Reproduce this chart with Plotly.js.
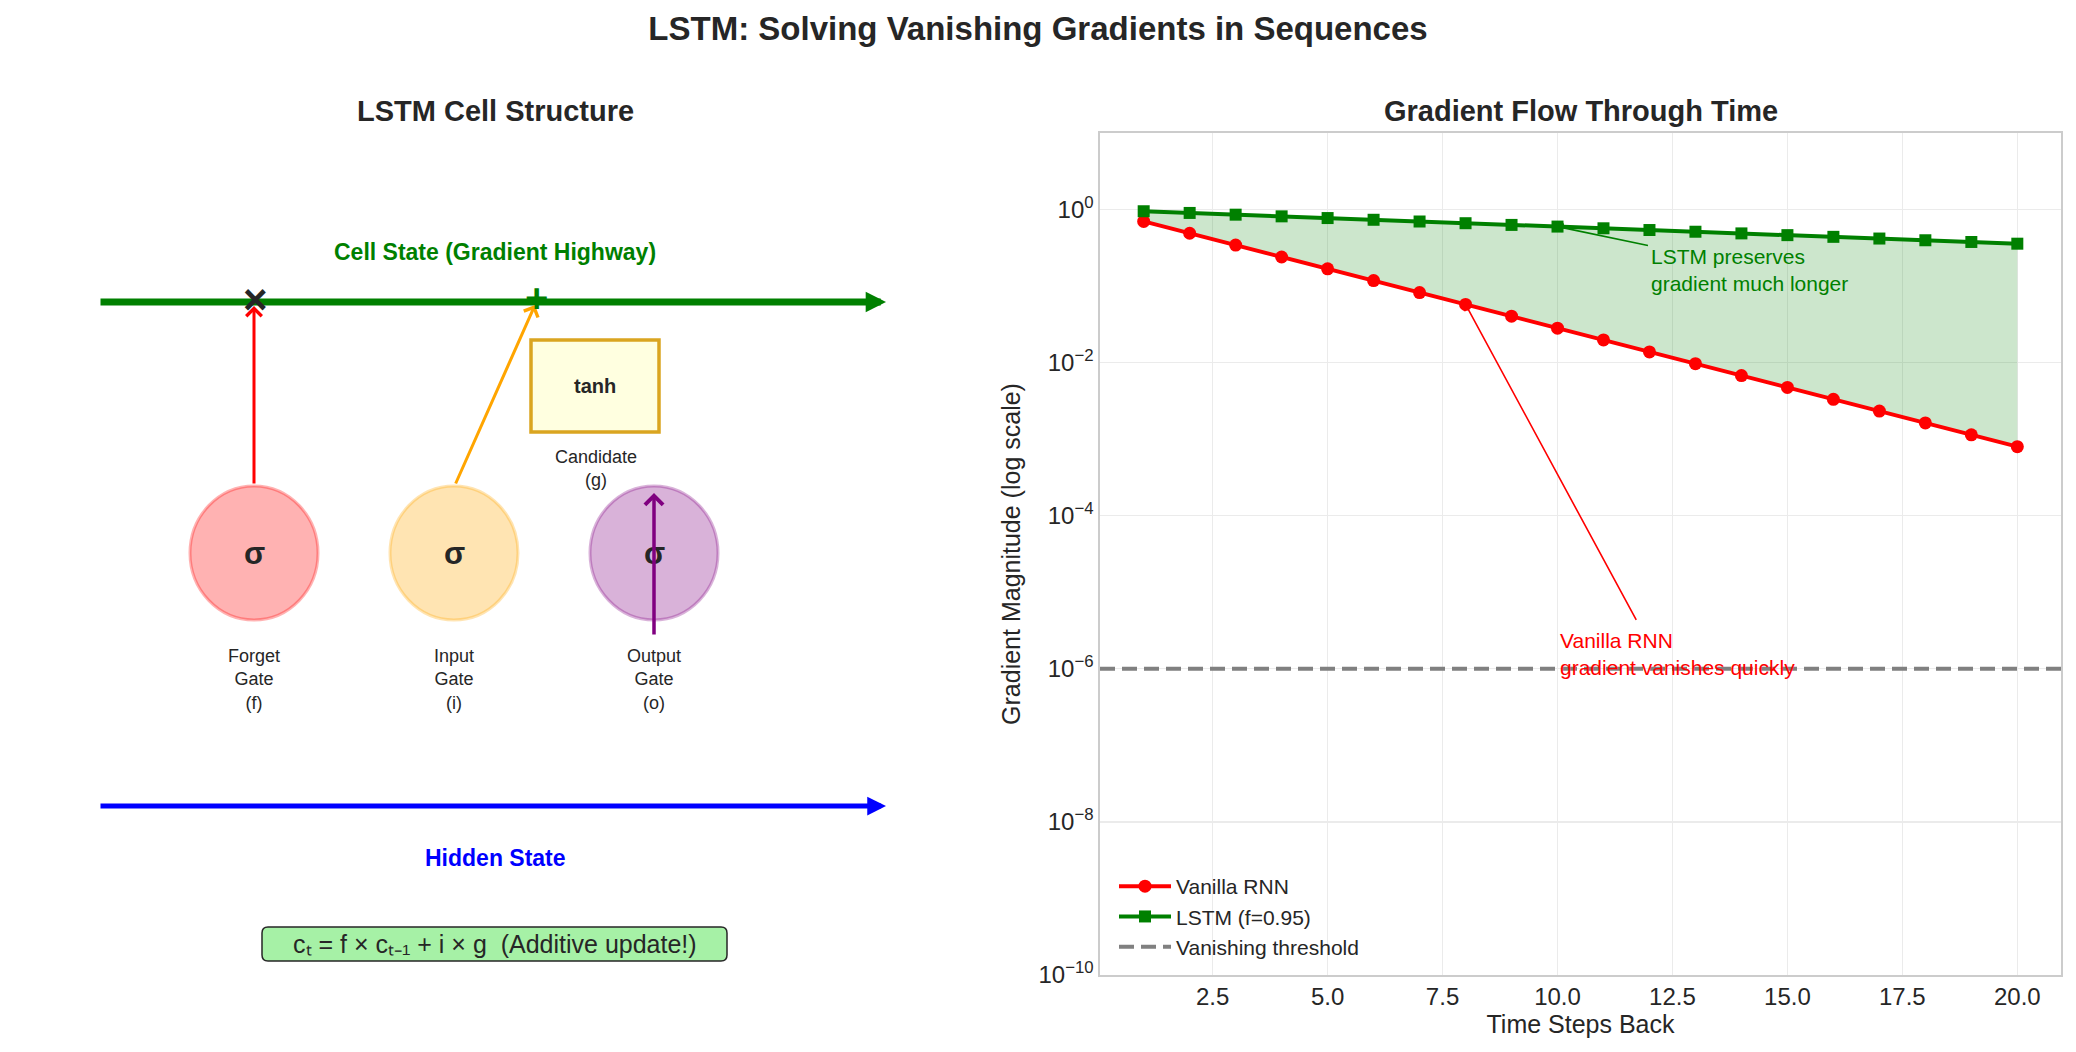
<!DOCTYPE html>
<html>
<head>
<meta charset="utf-8">
<script src="https://cdn.plot.ly/plotly-3.0.1.min.js"></script>
<style>
  html, body { margin: 0; padding: 0; background: #ffffff; }
  #chart { width: 2076px; height: 1052px; }
</style>
</head>
<body>
<div id="chart"></div>
<script>
// Gradient magnitudes per step back in time
const steps = [1, 2, 3, 4, 5, 6, 7, 8, 9, 10, 11, 12, 13, 14, 15, 16, 17, 18, 19, 20];
const rnnGrad = [0.7, 0.49, 0.343, 0.24, 0.168, 0.118, 0.0824, 0.0576, 0.0404, 0.0282,
                 0.0198, 0.0138, 0.00969, 0.00678, 0.00475, 0.00332, 0.00233, 0.00163, 0.00114, 0.000798];
const lstmGrad = [0.95, 0.903, 0.857, 0.815, 0.774, 0.735, 0.698, 0.663, 0.63, 0.599,
                  0.569, 0.54, 0.513, 0.488, 0.463, 0.44, 0.418, 0.397, 0.377, 0.358];
const vanishThreshold = 1e-6;

const yTickVals = [1, 1e-2, 1e-4, 1e-6, 1e-8, 1e-10];
const yTickText = ['10<sup>0</sup>', '10<sup>\u22122</sup>', '10<sup>\u22124</sup>',
                   '10<sup>\u22126</sup>', '10<sup>\u22128</sup>', '10<sup>\u221210</sup>'];

// Gate labels of the cell diagram
const gateLabels = ['Forget<br>Gate<br>(f)', 'Input<br>Gate<br>(i)', 'Output<br>Gate<br>(o)'];
const gateColors = ['255,0,0', '255,165,0', '128,0,128'];

const FONT = '"Liberation Sans", Arial, Helvetica, sans-serif';
const TXT = '#262626';

// ---------- right panel: gradient curves ----------
const traces = [
  { x: steps, y: lstmGrad, mode: 'lines', line: { width: 0, color: 'rgba(0,128,0,0)' },
    showlegend: false, hoverinfo: 'skip', xaxis: 'x', yaxis: 'y' },
  { x: steps, y: rnnGrad, mode: 'lines', fill: 'tonexty', fillcolor: 'rgba(0,128,0,0.2)',
    line: { width: 1, color: 'rgba(0,128,0,0.2)' }, showlegend: false, hoverinfo: 'skip',
    xaxis: 'x', yaxis: 'y' },
  { x: steps, y: rnnGrad, name: 'Vanilla RNN', mode: 'lines+markers',
    line: { color: '#ff0000', width: 4 }, marker: { symbol: 'circle', size: 13, color: '#ff0000' },
    xaxis: 'x', yaxis: 'y' },
  { x: steps, y: lstmGrad, name: 'LSTM (f=0.95)', mode: 'lines+markers',
    line: { color: '#008000', width: 4 }, marker: { symbol: 'square', size: 12, color: '#008000' },
    xaxis: 'x', yaxis: 'y' },
  { x: [null], y: [null], name: 'Vanishing threshold', mode: 'lines',
    line: { color: '#808080', width: 4, dash: '15px,7px' }, xaxis: 'x', yaxis: 'y' }
];

// ---------- left panel: LSTM cell diagram (panel units = pixels) ----------
const gateCx = [254, 454, 654];
const gateCy = 553, gateRx = 64, gateRy = 67;

const shapes = [];
gateCx.forEach((cx, i) => {
  shapes.push({
    type: 'circle', xref: 'x2', yref: 'y2',
    x0: cx - gateRx, x1: cx + gateRx, y0: gateCy - gateRy, y1: gateCy + gateRy,
    fillcolor: 'rgba(' + gateColors[i] + ',0.3)',
    line: { color: 'rgba(' + gateColors[i] + ',0.3)', width: 3 }
  });
});
// candidate (tanh) box
shapes.push({
  type: 'rect', xref: 'x2', yref: 'y2', x0: 531, x1: 659, y0: 340, y1: 432,
  fillcolor: '#ffffe0', line: { color: '#daa520', width: 3.5 }
});
// rounded box behind the update equation
(function () {
  const x0 = 262, x1 = 727, y0 = 927, y1 = 961, r = 6;
  shapes.push({
    type: 'path', xref: 'x2', yref: 'y2',
    path: `M ${x0 + r},${y0} L ${x1 - r},${y0} Q ${x1},${y0} ${x1},${y0 + r} L ${x1},${y1 - r} ` +
          `Q ${x1},${y1} ${x1 - r},${y1} L ${x0 + r},${y1} Q ${x0},${y1} ${x0},${y1 - r} ` +
          `L ${x0},${y0 + r} Q ${x0},${y0} ${x0 + r},${y0} Z`,
    fillcolor: 'rgba(144,238,144,0.8)', line: { color: TXT, width: 1.5 }
  });
})();
// vanishing threshold line across the plot
shapes.push({
  type: 'line', xref: 'paper', yref: 'y', x0: 1100 / 2076, x1: 2061 / 2076,
  y0: vanishThreshold, y1: vanishThreshold,
  line: { color: '#808080', width: 4, dash: '15px,7px' }
});

function txt(x, y, text, size, color, bold, extra) {
  return Object.assign({
    xref: 'x2', yref: 'y2', x: x, y: y, showarrow: false,
    text: bold ? '<b>' + text + '</b>' : text,
    font: { family: FONT, size: size, color: color },
    xanchor: 'center', yanchor: 'middle', align: 'center'
  }, extra || {});
}
function arrow(tx, ty, hx, hy, color, width, size, head) {
  return {
    xref: 'x2', yref: 'y2', axref: 'x2', ayref: 'y2',
    x: hx, y: hy, ax: tx, ay: ty, text: '', showarrow: true,
    arrowcolor: color, arrowwidth: width, arrowsize: size, arrowhead: head, standoff: 0, startstandoff: 0
  };
}

const annotations = [
  txt(495, 111, 'LSTM Cell Structure', 29, TXT, true),
  txt(495, 252, 'Cell State (Gradient Highway)', 23, '#008000', true),
  txt(495, 858, 'Hidden State', 23, '#0000ff', true),
  txt(595, 386, 'tanh', 20, TXT, true),
  txt(596, 468, 'Candidate<br>(g)', 18, TXT, false),
  txt(495, 944, 'c\u209c = f \u00d7 c\u209c\u208b\u2081 + i \u00d7 g  (Additive update!)', 25, TXT, false)
];
gateCx.forEach((cx, i) => {
  annotations.push(txt(cx, gateCy, '\u03c3', 31, TXT, true));
  annotations.push(txt(cx, 679, gateLabels[i], 18, TXT, false));
});
// state highways and gate connections
annotations.push(arrow(99, 302, 886, 302, '#008000', 7, 0.58, 2));
annotations.push(arrow(99, 806, 886, 806, '#0000ff', 5, 0.75, 2));
annotations.push(arrow(254, 485, 254, 306, '#ff0000', 3, 1, 4));
annotations.push(arrow(455, 485, 535, 305, '#ffa500', 3, 1, 4));
annotations.push(arrow(654, 636, 654, 493, '#800080', 3.5, 1, 4));
annotations.push(txt(255, 299, '\u00d7', 42, TXT, true));
annotations.push(txt(536, 298, '+', 40, '#008000', true));

// right panel title and notes
annotations.push({
  xref: 'paper', yref: 'paper', x: 1581 / 2076, y: 1 - 111 / 1052, showarrow: false,
  text: '<b>Gradient Flow Through Time</b>', font: { family: FONT, size: 29, color: TXT },
  xanchor: 'center', yanchor: 'middle'
});
annotations.push({
  xref: 'x', yref: 'y', x: 12, y: -0.44, showarrow: false, align: 'left',
  xanchor: 'left', yanchor: 'top', text: 'LSTM preserves<br>gradient much longer',
  font: { family: FONT, size: 21, color: '#008000' }
});
annotations.push({
  xref: 'x', yref: 'y', axref: 'x', ayref: 'y', x: steps[9], y: Math.log10(lstmGrad[9]),
  ax: 12, ay: -0.475, text: '', showarrow: true, arrowcolor: '#008000',
  arrowwidth: 1.6, arrowsize: 1, arrowhead: 4, standoff: 0
});
annotations.push({
  xref: 'x', yref: 'y', x: 10, y: -5.45, showarrow: false, align: 'left',
  xanchor: 'left', yanchor: 'top', text: 'Vanilla RNN<br>gradient vanishes quickly',
  font: { family: FONT, size: 21, color: '#ff0000' }
});
annotations.push({
  xref: 'x', yref: 'y', axref: 'x', ayref: 'y', x: steps[7], y: Math.log10(rnnGrad[7]),
  ax: 11.73, ay: -5.38, text: '', showarrow: true, arrowcolor: '#ff0000',
  arrowwidth: 1.6, arrowsize: 1, arrowhead: 4, standoff: 0
});

const layout = {
  width: 2076, height: 1052,
  margin: { l: 0, r: 0, t: 0, b: 0 },
  paper_bgcolor: '#ffffff', plot_bgcolor: '#ffffff',
  font: { family: FONT, color: TXT },
  title: {
    text: '<b>LSTM: Solving Vanishing Gradients in Sequences</b>',
    x: 0.5, xanchor: 'center', y: 1 - 28 / 1052, yanchor: 'middle', yref: 'container',
    font: { family: FONT, size: 33, color: TXT }
  },
  xaxis: {
    domain: [1100 / 2076, 2061 / 2076], anchor: 'y',
    range: [0.05, 20.95], tick0: 0, dtick: 2.5, tickformat: '.1f',
    showgrid: true, gridcolor: '#ebebeb', gridwidth: 1.3, zeroline: false,
    showline: true, mirror: true, linecolor: '#cccccc', linewidth: 1.6,
    ticks: '', tickfont: { family: FONT, size: 24, color: TXT },
    title: { text: 'Time Steps Back', font: { family: FONT, size: 25, color: TXT }, standoff: 6 }
  },
  yaxis: {
    domain: [1 - 975 / 1052, 1 - 133 / 1052], anchor: 'x',
    type: 'log', range: [-10, 1], tickvals: yTickVals, ticktext: yTickText,
    showgrid: true, gridcolor: '#ebebeb', gridwidth: 1.3, zeroline: false,
    showline: true, mirror: true, linecolor: '#cccccc', linewidth: 1.6,
    ticks: '', tickfont: { family: FONT, size: 24, color: TXT },
    title: { text: 'Gradient Magnitude (log scale)', font: { family: FONT, size: 25, color: TXT }, standoff: 10 }
  },
  xaxis2: { domain: [0, 1000 / 2076], anchor: 'y2', range: [0, 1000], visible: false, fixedrange: true },
  yaxis2: { domain: [0, 1], anchor: 'x2', range: [1052, 0], visible: false, fixedrange: true },
  showlegend: true,
  legend: {
    x: 1114 / 2076, xanchor: 'left', y: 1 - 967 / 1052, yanchor: 'bottom',
    traceorder: 'normal', itemwidth: 52,
    bgcolor: 'rgba(255,255,255,0)', borderwidth: 0,
    font: { family: FONT, size: 21, color: TXT }
  },
  shapes: shapes,
  annotations: annotations
};

Plotly.newPlot('chart', traces, layout, { displayModeBar: false, staticPlot: true });
</script>
</body>
</html>
